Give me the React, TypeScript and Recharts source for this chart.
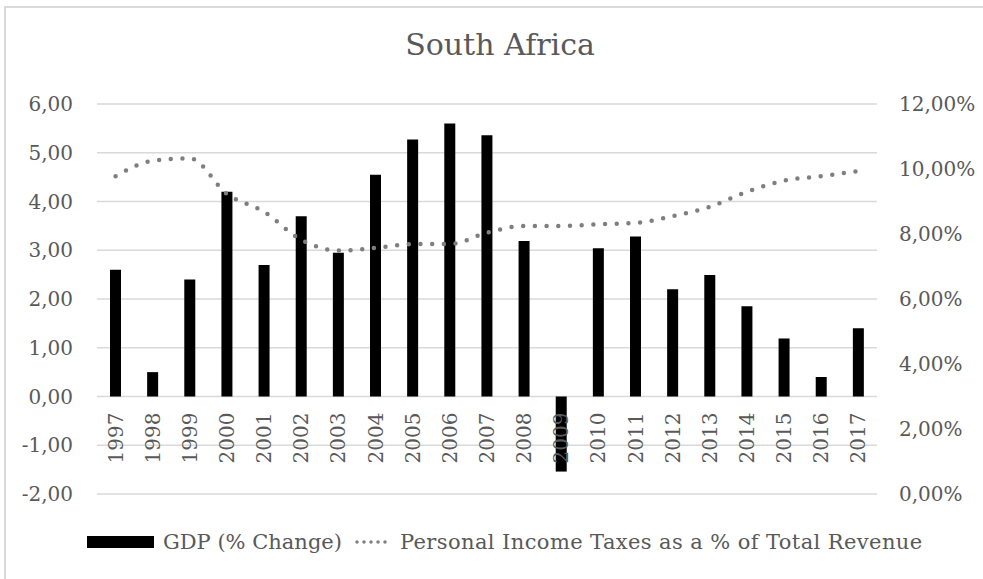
import React from 'react';
import { ComposedChart, Bar, Line, XAxis, YAxis, CartesianGrid, Legend } from 'recharts';

const years = ['1997','1998','1999','2000','2001','2002','2003','2004','2005','2006','2007','2008','2009','2010','2011','2012','2013','2014','2015','2016','2017'];
const gdpChange = [2.6, 0.5, 2.4, 4.2, 2.7, 3.7, 2.95, 4.55, 5.27, 5.6, 5.36, 3.19, -1.54, 3.04, 3.28, 2.2, 2.49, 1.85, 1.19, 0.4, 1.4];
const pitShare = [9.78, 10.25, 10.33, 9.23, 8.68, 7.82, 7.49, 7.57, 7.69, 7.69, 8.04, 8.25, 8.25, 8.3, 8.34, 8.55, 8.84, 9.3, 9.64, 9.78, 9.94];
const leftTicks = [-2, -1, 0, 1, 2, 3, 4, 5, 6];
const rightTicks = [0, 2, 4, 6, 8, 10, 12];

const data = years.map((y, i) => ({ year: y, gdp: gdpChange[i], pit: pitShare[i] }));

const W = 983;
const H = 579;
const TOP = 104;
const XAXIS_H = 85;
const PLOT_H = H - TOP - XAXIS_H;
const Y_MIN = -2;
const Y_MAX = 6;
const ZERO_OFFSET = (PLOT_H * (0 - Y_MIN)) / (Y_MAX - Y_MIN);

const FONT = '"DejaVu Serif", serif';
const TEXT = '#595959';
const GRID = '#d9d9d9';

const fmt = (v: number) => v.toFixed(2).replace('.', ',');

const YearTick = (props: any) => {
  const { x, y, payload } = props;
  const ay = y - ZERO_OFFSET + 16;
  return (
    <text
      x={x}
      y={ay}
      transform={`rotate(-90 ${x} ${ay})`}
      textAnchor="end"
      dominantBaseline="central"
      fill={TEXT}
      fontSize={20}
      fontFamily={FONT}
    >
      {payload.value}
    </text>
  );
};

const LegendContent = () => (
  <div style={{ display: 'flex', alignItems: 'center', paddingLeft: 87, fontFamily: FONT, fontSize: 21, color: TEXT, whiteSpace: 'nowrap' }}>
    <div style={{ width: 67, height: 12, background: '#000' }} />
    <span style={{ marginLeft: 9 }}>GDP (% Change)</span>
    <svg width={40} height={12} style={{ marginLeft: 12 }}>
      <line x1={3} y1={6} x2={38} y2={6} stroke="#7f7f7f" strokeWidth={3.5} strokeDasharray="0 7" strokeLinecap="round" />
    </svg>
    <span style={{ marginLeft: 6, letterSpacing: 0.4 }}>Personal Income Taxes as a % of Total Revenue</span>
  </div>
);

export default function App() {
  return (
    <div style={{ position: 'absolute', left: 0, top: 0, width: W, height: H, background: '#fff', overflow: 'hidden' }}>
      <div style={{ position: 'absolute', left: 4, top: 6, width: W, height: H, borderTop: `2px solid ${GRID}`, borderLeft: `2px solid ${GRID}` }} />
      <div style={{ position: 'absolute', left: 0, top: 27, width: 1000, textAlign: 'center', fontFamily: FONT, fontSize: 30, color: TEXT }}>
        South Africa
      </div>
      <ComposedChart width={W} height={H} data={data} margin={{ top: TOP, right: 0, bottom: 0, left: 0 }}>
        <CartesianGrid yAxisId="left" vertical={false} stroke={GRID} strokeWidth={1.5} />
        <XAxis
          dataKey="year"
          height={XAXIS_H}
          axisLine={false}
          tickLine={false}
          tickSize={0}
          tickMargin={0}
          interval={0}
          tick={<YearTick />}
        />
        <YAxis
          yAxisId="left"
          orientation="left"
          width={97}
          domain={[Y_MIN, Y_MAX]}
          ticks={leftTicks}
          tickFormatter={fmt}
          axisLine={false}
          tickLine={false}
          tickSize={0}
          tickMargin={24}
          tick={{ fill: TEXT, fontSize: 20, fontFamily: FONT }}
        />
        <YAxis
          yAxisId="right"
          orientation="right"
          width={106}
          domain={[0, 12]}
          ticks={rightTicks}
          tickFormatter={(v: number) => fmt(v) + '%'}
          axisLine={false}
          tickLine={false}
          tickSize={0}
          tickMargin={22}
          tick={{ fill: TEXT, fontSize: 20, fontFamily: FONT, textAnchor: 'start' }}
        />
        <Bar yAxisId="left" dataKey="gdp" name="GDP (% Change)" fill="#000000" barSize={11} isAnimationActive={false} />
        <Line
          yAxisId="right"
          dataKey="pit"
          name="Personal Income Taxes as a % of Total Revenue"
          type="monotone"
          stroke="#7f7f7f"
          strokeWidth={4.5}
          strokeDasharray="0 11.7"
          strokeLinecap="round"
          dot={false}
          activeDot={false}
          isAnimationActive={false}
        />
        <Legend
          layout="horizontal"
          verticalAlign="middle"
          align="center"
          content={<LegendContent />}
          wrapperStyle={{ top: 530, left: 0, width: W }}
        />
      </ComposedChart>
    </div>
  );
}
